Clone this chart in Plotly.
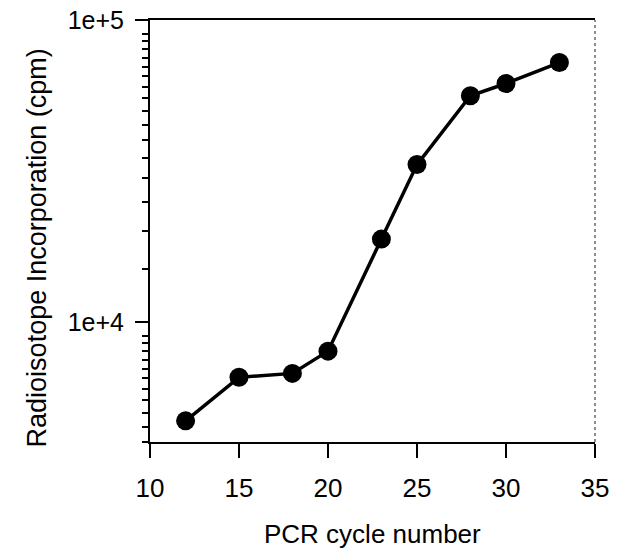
# -*- coding: utf-8 -*-
import plotly.graph_objects as go

# PCR cycle vs radioisotope incorporation
cycles = [12, 15, 18, 20, 23, 25, 28, 30, 33]
cpm = [4700, 6550, 6750, 8000, 18800, 33200, 56100, 61600, 72300]

x_ticks = [10, 15, 20, 25, 30, 35]
y_ticks = [1e4, 1e5]
y_ticktext = ["1e+4", "1e+5"]
# minor ticks: every 500 below 1e4, every 5000 above
y_minor = [4000, 4500, 5000, 5500, 6000, 6500, 7000, 7500, 8000, 8500, 9000,
           15000, 20000, 25000, 30000, 35000, 40000, 45000, 50000, 55000,
           60000, 65000, 70000, 75000, 80000, 85000, 90000]

font_name = "Liberation Sans, Arial, Helvetica, sans-serif"

trace = go.Scatter(x=cycles, y=cpm, mode="lines+markers",
                   line=dict(color="black", width=3.5),
                   marker=dict(color="black", size=19),
                   showlegend=False)

layout = go.Layout(
    width=620, height=550,
    margin=dict(l=150, r=25, t=20, b=108),
    paper_bgcolor="white", plot_bgcolor="white",
    font=dict(family=font_name, color="black", size=26),
    xaxis=dict(range=[10, 35], tickvals=x_ticks, ticks="outside", ticklen=14,
               tickwidth=2, tickcolor="black", showline=True, linecolor="black",
               linewidth=2, mirror=True, showgrid=False, zeroline=False,
               automargin=False, tickfont=dict(size=26), ticklabelstandoff=8,
               ticklabeloverflow="allow"),
    yaxis=dict(type="log", range=[3.60206, 5], tickvals=y_ticks, ticktext=y_ticktext,
               ticks="outside", ticklen=13, tickwidth=2, tickcolor="black",
               showline=True, linecolor="black", linewidth=2, showgrid=False,
               zeroline=False, automargin=False, tickfont=dict(size=25),
               ticklabelstandoff=6, ticklabeloverflow="allow",
               minor=dict(tickvals=y_minor, ticks="outside", ticklen=6,
                          tickwidth=1.5, tickcolor="black", showgrid=False)),
    shapes=[dict(type="line", xref="paper", yref="paper", x0=1, x1=1, y0=0, y1=1,
                 line=dict(color="#444", width=1.2, dash="dot"))],
    annotations=[
        dict(text="PCR cycle number", xref="paper", yref="paper", x=0.5, y=-0.218,
             xanchor="center", yanchor="middle", showarrow=False,
             font=dict(size=26)),
        dict(text="Radioisotope Incorporation (cpm)", xref="paper", yref="paper",
             x=-0.254, y=0.461, xanchor="center", yanchor="middle", textangle=-90,
             showarrow=False, font=dict(size=27)),
    ],
)

fig = go.Figure(data=[trace], layout=layout)
# drop the default 8px body margin so the figure fills the window
fig.write_html("out.html", config={"displayModeBar": False},
               post_script="document.body.style.margin='0px';")
